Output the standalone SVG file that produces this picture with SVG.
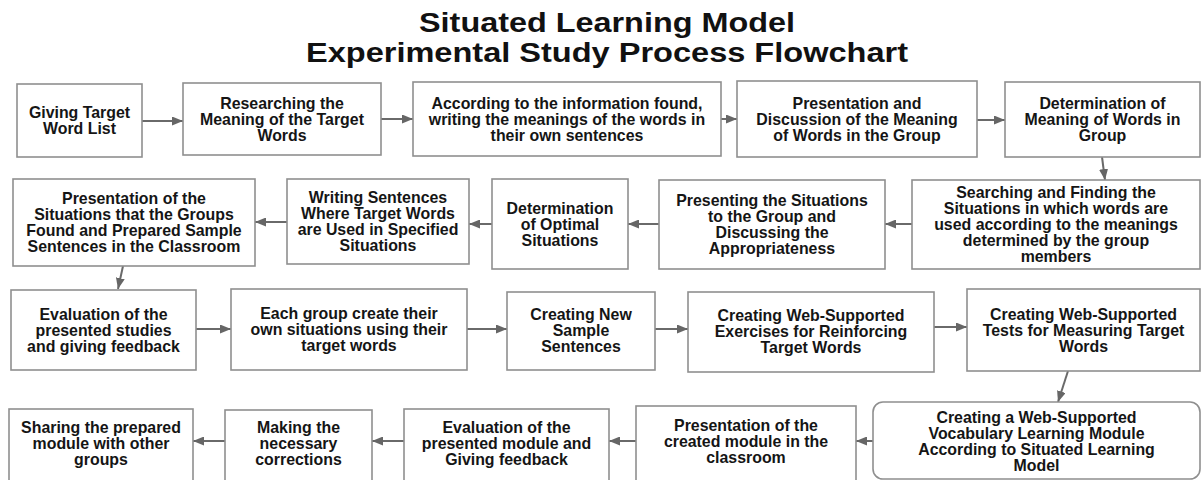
<svg xmlns="http://www.w3.org/2000/svg" width="1203" height="480" viewBox="0 0 1203 480">
<style>
.box{fill:#fff;stroke:#8f8f8f;stroke-width:1.6}
.t{font-family:"Liberation Sans",Arial,sans-serif;font-weight:bold;font-size:15.9px;fill:#151515;text-anchor:middle}
.title{font-family:"Liberation Sans",Arial,sans-serif;font-weight:bold;font-size:27px;fill:#111;text-anchor:middle}
.c{stroke:#6a6a6a;stroke-width:2;fill:none;marker-end:url(#ah)}
</style>
<defs>
<marker id="ah" markerUnits="userSpaceOnUse" markerWidth="11" markerHeight="9" refX="11" refY="4.5" orient="auto">
<path d="M0,0 L11,4.5 L0,9 z" fill="#666"/>
</marker>
</defs>
<rect width="1203" height="480" fill="#fff"/>
<g id="title">
<text class="title" x="607" y="32" textLength="376" lengthAdjust="spacingAndGlyphs">Situated Learning Model</text>
<text class="title" x="607" y="62" textLength="602" lengthAdjust="spacingAndGlyphs">Experimental Study Process Flowchart</text>
</g>
<g id="connectors">
<line class="c" x1="142" y1="121" x2="183" y2="121"/>
<line class="c" x1="381" y1="119" x2="413" y2="119"/>
<line class="c" x1="721" y1="119" x2="737" y2="119"/>
<line class="c" x1="977" y1="120" x2="1005" y2="120"/>
<line class="c" x1="1102" y1="157" x2="1105" y2="180"/>
<line class="c" x1="912" y1="224" x2="885" y2="224"/>
<line class="c" x1="659" y1="224" x2="628" y2="224"/>
<line class="c" x1="492" y1="224" x2="469" y2="224"/>
<line class="c" x1="287" y1="222" x2="255" y2="222"/>
<line class="c" x1="123" y1="266" x2="118" y2="289"/>
<line class="c" x1="196" y1="329" x2="231" y2="329"/>
<line class="c" x1="467" y1="329" x2="507" y2="329"/>
<line class="c" x1="655" y1="329" x2="688" y2="329"/>
<line class="c" x1="934" y1="327" x2="967" y2="327"/>
<line class="c" x1="1068" y1="371" x2="1058" y2="402"/>
<line class="c" x1="873" y1="441" x2="856" y2="441"/>
<line class="c" x1="636" y1="441" x2="609" y2="441"/>
<line class="c" x1="404" y1="441" x2="372" y2="441"/>
<line class="c" x1="225" y1="441" x2="193" y2="441"/>
</g>
<g id="n1"><rect class="box" x="17" y="84" width="125" height="73"/>
<text class="t" y="118"><tspan x="79.5">Giving Target</tspan><tspan x="79.5" dy="16">Word List</tspan></text></g>
<g id="n2"><rect class="box" x="183" y="83" width="198" height="72"/>
<text class="t" y="108.5"><tspan x="282">Researching the</tspan><tspan x="282" dy="16">Meaning of the Target</tspan><tspan x="282" dy="16">Words</tspan></text></g>
<g id="n3"><rect class="box" x="413" y="82" width="308" height="74"/>
<text class="t" y="108.5"><tspan x="567">According to the information found,</tspan><tspan x="567" dy="16">writing the meanings of the words in</tspan><tspan x="567" dy="16">their own sentences</tspan></text></g>
<g id="n4"><rect class="box" x="737" y="81" width="240" height="76"/>
<text class="t" y="108.5"><tspan x="857">Presentation and</tspan><tspan x="857" dy="16">Discussion of the Meaning</tspan><tspan x="857" dy="16">of Words in the Group</tspan></text></g>
<g id="n5"><rect class="box" x="1005" y="82" width="195" height="75"/>
<text class="t" y="109"><tspan x="1102.5">Determination of</tspan><tspan x="1102.5" dy="16">Meaning of Words in</tspan><tspan x="1102.5" dy="16">Group</tspan></text></g>
<g id="n6"><rect class="box" x="912" y="180" width="288" height="89"/>
<text class="t" y="197.5"><tspan x="1056">Searching and Finding the</tspan><tspan x="1056" dy="16">Situations in which words are</tspan><tspan x="1056" dy="16">used according to the meanings</tspan><tspan x="1056" dy="16">determined by the group</tspan><tspan x="1056" dy="16">members</tspan></text></g>
<g id="n7"><rect class="box" x="659" y="180" width="226" height="89"/>
<text class="t" y="206"><tspan x="772">Presenting the Situations</tspan><tspan x="772" dy="16">to the Group and</tspan><tspan x="772" dy="16">Discussing the</tspan><tspan x="772" dy="16">Appropriateness</tspan></text></g>
<g id="n8"><rect class="box" x="492" y="179" width="136" height="90"/>
<text class="t" y="213.5"><tspan x="560">Determination</tspan><tspan x="560" dy="16">of Optimal</tspan><tspan x="560" dy="16">Situations</tspan></text></g>
<g id="n9"><rect class="box" x="287" y="179" width="182" height="85"/>
<text class="t" y="203"><tspan x="378">Writing Sentences</tspan><tspan x="378" dy="16">Where Target Words</tspan><tspan x="378" dy="16">are Used in Specified</tspan><tspan x="378" dy="16">Situations</tspan></text></g>
<g id="n10"><rect class="box" x="13" y="179" width="242" height="87"/>
<text class="t" y="204"><tspan x="134">Presentation of the</tspan><tspan x="134" dy="16">Situations that the Groups</tspan><tspan x="134" dy="16">Found and Prepared Sample</tspan><tspan x="134" dy="16">Sentences in the Classroom</tspan></text></g>
<g id="n11"><rect class="box" x="11" y="290" width="185" height="80"/>
<text class="t" y="319.5"><tspan x="103.5">Evaluation of the</tspan><tspan x="103.5" dy="16">presented studies</tspan><tspan x="103.5" dy="16">and giving feedback</tspan></text></g>
<g id="n12"><rect class="box" x="231" y="289" width="236" height="81"/>
<text class="t" y="319"><tspan x="349">Each group create their</tspan><tspan x="349" dy="16">own situations using their</tspan><tspan x="349" dy="16">target words</tspan></text></g>
<g id="n13"><rect class="box" x="507" y="292" width="148" height="78"/>
<text class="t" y="320"><tspan x="581">Creating New</tspan><tspan x="581" dy="16">Sample</tspan><tspan x="581" dy="16">Sentences</tspan></text></g>
<g id="n14"><rect class="box" x="688" y="292" width="246" height="80"/>
<text class="t" y="321"><tspan x="811">Creating Web-Supported</tspan><tspan x="811" dy="16">Exercises for Reinforcing</tspan><tspan x="811" dy="16">Target Words</tspan></text></g>
<g id="n15"><rect class="box" x="967" y="289" width="233" height="82"/>
<text class="t" y="319.5"><tspan x="1083.5">Creating Web-Supported</tspan><tspan x="1083.5" dy="16">Tests for Measuring Target</tspan><tspan x="1083.5" dy="16">Words</tspan></text></g>
<g id="n16"><rect class="box" x="873" y="402" width="327" height="77" rx="10"/>
<text class="t" y="422.5"><tspan x="1036.5">Creating a Web-Supported</tspan><tspan x="1036.5" dy="16">Vocabulary Learning Module</tspan><tspan x="1036.5" dy="16">According to Situated Learning</tspan><tspan x="1036.5" dy="16">Model</tspan></text></g>
<g id="n17"><rect class="box" x="636" y="406" width="220" height="78"/>
<text class="t" y="430.5"><tspan x="746">Presentation of the</tspan><tspan x="746" dy="16">created module in the</tspan><tspan x="746" dy="16">classroom</tspan></text></g>
<g id="n18"><rect class="box" x="404" y="409" width="205" height="75"/>
<text class="t" y="432.5"><tspan x="506.5">Evaluation of the</tspan><tspan x="506.5" dy="16">presented module and</tspan><tspan x="506.5" dy="16">Giving feedback</tspan></text></g>
<g id="n19"><rect class="box" x="225" y="410" width="147" height="74"/>
<text class="t" y="432.5"><tspan x="298.5">Making the</tspan><tspan x="298.5" dy="16">necessary</tspan><tspan x="298.5" dy="16">corrections</tspan></text></g>
<g id="n20"><rect class="box" x="9" y="409" width="184" height="75"/>
<text class="t" y="432.5"><tspan x="101">Sharing the prepared</tspan><tspan x="101" dy="16">module with other</tspan><tspan x="101" dy="16">groups</tspan></text></g>
</svg>
